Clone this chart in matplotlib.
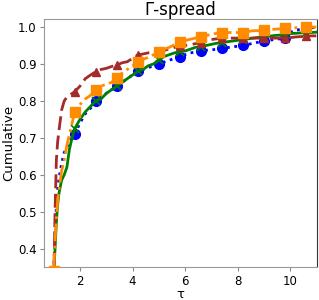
import numpy as np
import matplotlib
matplotlib.use("Agg")
import matplotlib.pyplot as plt

tau = [1.0, 1.05, 1.1, 1.15, 1.2, 1.3, 1.4, 1.5, 1.6, 1.7, 1.8, 2.0, 2.2, 2.4, 2.6, 2.8,
       3.0, 3.2, 3.4, 3.6, 3.8, 4.0, 4.2, 4.4, 4.6, 4.8, 5.0, 5.2, 5.4, 5.6, 5.8, 6.0,
       6.2, 6.4, 6.6, 6.8, 7.0, 7.2, 7.4, 7.6, 7.8, 8.0, 8.2, 8.4, 8.6, 8.8, 9.0, 9.2,
       9.4, 9.6, 9.8, 10.0, 10.2, 10.4, 10.6, 10.8, 11.0]

brown = [0.30, 0.50, 0.64, 0.69, 0.72, 0.775, 0.80, 0.81, 0.815, 0.82, 0.825, 0.84, 0.86, 0.87, 0.879, 0.885,
         0.888, 0.893, 0.897, 0.903, 0.906, 0.915, 0.924, 0.927, 0.93, 0.93, 0.932, 0.937, 0.94, 0.945, 0.948, 0.95,
         0.952, 0.955, 0.958, 0.962, 0.966, 0.968, 0.97, 0.97, 0.97, 0.97, 0.97, 0.97, 0.97, 0.97, 0.97, 0.97,
         0.97, 0.97, 0.971, 0.971, 0.973, 0.974, 0.975, 0.976, 0.976]

orange = [0.34, 0.42, 0.48, 0.53, 0.56, 0.61, 0.64, 0.68, 0.71, 0.74, 0.77, 0.79, 0.805, 0.815, 0.83, 0.84,
          0.845, 0.85, 0.863, 0.875, 0.885, 0.895, 0.906, 0.912, 0.918, 0.925, 0.933, 0.94, 0.945, 0.952, 0.96, 0.963,
          0.967, 0.97, 0.974, 0.977, 0.98, 0.983, 0.985, 0.985, 0.985, 0.985, 0.985, 0.988, 0.99, 0.99, 0.992, 0.993,
          0.994, 0.995, 0.996, 0.997, 0.998, 0.999, 1.0, 1.0, 1.0]

blue = [0.34, 0.45, 0.51, 0.56, 0.59, 0.63, 0.66, 0.675, 0.69, 0.70, 0.71, 0.74, 0.765, 0.78, 0.80, 0.81,
        0.82, 0.83, 0.84, 0.85, 0.86, 0.87, 0.88, 0.885, 0.89, 0.895, 0.90, 0.905, 0.91, 0.915, 0.92, 0.925,
        0.93, 0.932, 0.935, 0.937, 0.938, 0.94, 0.942, 0.944, 0.946, 0.948, 0.951, 0.953, 0.956, 0.959, 0.962, 0.964,
        0.966, 0.968, 0.971, 0.985, 0.992, 0.993, 0.995, 0.998, 1.0]

green = [0.33, 0.40, 0.47, 0.52, 0.55, 0.585, 0.60, 0.62, 0.67, 0.70, 0.725, 0.75, 0.77, 0.785, 0.80, 0.805,
         0.82, 0.83, 0.84, 0.85, 0.86, 0.87, 0.88, 0.885, 0.895, 0.90, 0.91, 0.92, 0.925, 0.93, 0.933, 0.935,
         0.94, 0.945, 0.947, 0.95, 0.953, 0.956, 0.958, 0.96, 0.962, 0.964, 0.966, 0.968, 0.97, 0.972, 0.973, 0.975,
         0.977, 0.978, 0.98, 0.982, 0.983, 0.984, 0.985, 0.985, 0.986]

x_ticks = [2, 4, 6, 8, 10]
y_ticks = [0.4, 0.5, 0.6, 0.7, 0.8, 0.9, 1.0]

t = np.array(tau)
k = (t - 1.0) / 0.8
mark_idx = [i for i in range(len(t)) if abs(k[i] - round(k[i])) < 1e-6]

fig = plt.figure(figsize=(3.19, 3.0), dpi=100)
ax = fig.add_axes([0.138, 0.11, 0.856, 0.827])

lw = 2.0
ax.plot(t, blue, color='blue', linestyle=':', linewidth=lw, marker='o', markersize=7,
        markevery=mark_idx, zorder=2)
ax.plot(t, green, color='green', linestyle='-', linewidth=lw, marker='x', markersize=6,
        markeredgewidth=1.2, markevery=mark_idx, zorder=3)
ax.plot(t, brown, color='brown', linestyle=(0, (5, 2)), linewidth=lw, marker='^', markersize=6,
        markevery=mark_idx, zorder=4)
ax.plot(t, orange, color='darkorange', linestyle='-.', linewidth=lw, marker='s', markersize=7,
        markevery=mark_idx, zorder=5)

ax.set_xlim(0.63, 11.03)
ax.set_ylim(0.35, 1.022)
ax.set_xticks(x_ticks)
ax.set_yticks(y_ticks)
ax.set_xticklabels([str(v) for v in x_ticks], fontsize=8.5)
ax.set_yticklabels(["%.1f" % v for v in y_ticks], fontsize=8.5)
ax.tick_params(length=3, color='#888888', pad=2.5)
for s in ['left', 'bottom', 'top']:
    ax.spines[s].set_color('#999999')
ax.spines['right'].set_color('#333333')

ax.set_title("Γ-spread", fontsize=12, pad=3)
ax.set_ylabel("Cumulative", fontsize=9.5, labelpad=2)
ax.set_xlabel("τ", fontsize=9.5, labelpad=0)

fig.savefig("out.png", dpi=100)
